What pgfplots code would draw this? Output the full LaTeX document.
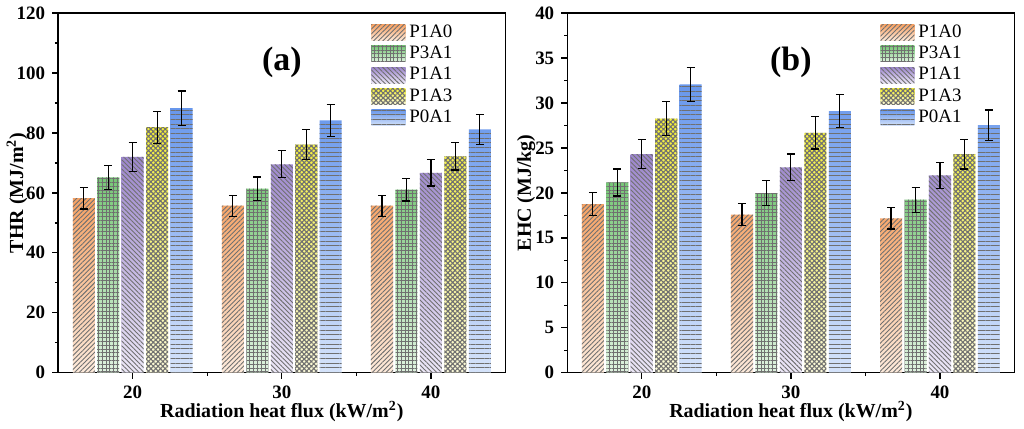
\documentclass[border=0pt]{standalone}
\usepackage{fontspec}
\setmainfont{Liberation Serif}
\usepackage{pgfplots}
\pgfplotsset{compat=1.18}
\usetikzlibrary{patterns.meta}
\definecolor{or1}{HTML}{F7A264}
\definecolor{or2}{HTML}{FDEADB}
\definecolor{gr1}{HTML}{76C676}
\definecolor{gr2}{HTML}{DFF2DF}
\definecolor{pu1}{HTML}{9C86CC}
\definecolor{pu2}{HTML}{ECE7F7}
\definecolor{ye1}{HTML}{F4F034}
\definecolor{ye2}{HTML}{FCFADB}
\definecolor{bl1}{HTML}{6897EC}
\definecolor{bl2}{HTML}{D5E3FA}
\definecolor{patc}{HTML}{707070}
\tikzset{
  pA/.style={pattern={Lines[angle=45,distance=1.65pt,line width=0.45pt]}, pattern color=patc},
  pB/.style={pattern={Hatch[angle=0,distance=1.9pt,line width=0.42pt]}, pattern color=patc},
  pC/.style={pattern={Lines[angle=-45,distance=1.65pt,line width=0.45pt]}, pattern color=patc},
  pD/.style={pattern={Hatch[angle=45,distance=1.7pt,line width=0.55pt]}, pattern color=patc},
  pE/.style={pattern={Lines[angle=0,distance=2.35pt,line width=0.45pt]}, pattern color=patc},
  gA/.style={top color=or1, bottom color=or2},
  gB/.style={top color=gr1, bottom color=gr2},
  gC/.style={top color=pu1, bottom color=pu2},
  gD/.style={top color=ye1, bottom color=ye2},
  gE/.style={top color=bl1, bottom color=bl2},
}
\newcommand{\legimg}[2]{\path[#1] (0pt,-4pt) rectangle (17pt,4pt); \path[#2] (0pt,-4pt) rectangle (17pt,4pt);}
\pgfplotsset{
  shA/.style={draw=none, bar shift=-0.328, gA, forget plot},
  shB/.style={draw=none, bar shift=-0.164, gB, forget plot},
  shC/.style={draw=none, bar shift=0, gC, forget plot},
  shD/.style={draw=none, bar shift=0.164, gD, forget plot},
  shE/.style={draw=none, bar shift=0.328, gE, forget plot},
  eb/.style={error bars/.cd, y dir=both, y explicit,
    error bar style={line width=0.6pt, black, solid},
    error mark options={rotate=90, mark size=2pt, line width=0.6pt, black}},
  ptA/.style={draw=none, bar shift=-0.328, pA, legend image code/.code={\legimg{gA}{pA}}, eb},
  ptB/.style={draw=none, bar shift=-0.164, pB, legend image code/.code={\legimg{gB}{pB}}, eb},
  ptC/.style={draw=none, bar shift=0, pC, legend image code/.code={\legimg{gC}{pC}}, eb},
  ptD/.style={draw=none, bar shift=0.164, pD, legend image code/.code={\legimg{gD}{pD}}, eb},
  ptE/.style={draw=none, bar shift=0.328, pE, legend image code/.code={\legimg{gE}{pE}}, eb},
  common/.style={
    ybar, bar width=0.148,
    scale only axis, width=224.5pt, height=180.5pt,
    xmin=-0.5, xmax=2.5, xtick={0,1,2}, xticklabels={20,30,40}, minor xtick={0.5,1.5},
    ymin=0, minor y tick num=1,
    tick align=outside, xtick pos=bottom, ytick pos=left,
    major tick length=3pt, minor tick length=1.6pt,
    axis line style={line width=0.7pt, black},
    tick style={line width=0.7pt, black},
    ticklabel style={font=\fontsize{9.5}{11}\selectfont\bfseries},
    /pgf/number format/assume math mode=true,
    every axis x label/.style={at={(axis description cs:0.5,-0.108)}, anchor=center,
      font=\fontsize{10}{12}\selectfont\bfseries},
    every axis y label/.style={at={(axis description cs:-0.092,0.5)}, rotate=90, anchor=center,
      font=\fontsize{10}{12}\selectfont\bfseries},
    xlabel={Radiation heat flux (kW/m\textsuperscript{2})},
    legend style={draw=none, fill=none, at={(axis description cs:0.695,0.985)}, anchor=north west,
      font=\fontsize{9.5}{11}\selectfont, row sep=-1.1pt, inner sep=1pt},
    legend cell align=left,
  }
}
\begin{document}
\begin{tikzpicture}
\path (0,0) rectangle (512pt,213pt);
\begin{axis}[common, at={(27.25pt,26.5pt)}, anchor=south west,
  ymax=120, ytick={0,20,40,60,80,100,120},
  ylabel={THR (MJ/m\textsuperscript{2})}]
\addplot[shA] coordinates {(0,58.2) (1,55.7) (2,55.7)};
\addplot[shB] coordinates {(0,65.2) (1,61.4) (2,61.1)};
\addplot[shC] coordinates {(0,72.0) (1,69.5) (2,66.7)};
\addplot[shD] coordinates {(0,81.9) (1,76.1) (2,72.2)};
\addplot[shE] coordinates {(0,88.3) (1,84.2) (2,81.2)};
\addplot[ptA] coordinates {(0,58.2) +- (0,3.6) (1,55.7) +- (0,3.5) (2,55.7) +- (0,3.5)};
\addlegendentry{P1A0}
\addplot[ptB] coordinates {(0,65.2) +- (0,4.0) (1,61.4) +- (0,3.9) (2,61.1) +- (0,3.8)};
\addlegendentry{P3A1}
\addplot[ptC] coordinates {(0,72.0) +- (0,4.8) (1,69.5) +- (0,4.5) (2,66.7) +- (0,4.4)};
\addlegendentry{P1A1}
\addplot[ptD] coordinates {(0,81.9) +- (0,5.3) (1,76.1) +- (0,5.0) (2,72.2) +- (0,4.6)};
\addlegendentry{P1A3}
\addplot[ptE] coordinates {(0,88.3) +- (0,5.7) (1,84.2) +- (0,5.3) (2,81.2) +- (0,5.0)};
\addlegendentry{P0A1}
\node[font=\fontsize{17}{20}\selectfont\bfseries] at (rel axis cs:0.5,0.863) {(a)};
\end{axis}
\begin{axis}[common, at={(282.75pt,26.5pt)}, anchor=south west,
  ymax=40, ytick={0,5,10,15,20,25,30,35,40},
  ylabel={EHC (MJ/kg)}]
\addplot[shA] coordinates {(0,18.76) (1,17.58) (2,17.17)};
\addplot[shB] coordinates {(0,21.16) (1,19.98) (2,19.24)};
\addplot[shC] coordinates {(0,24.30) (1,22.83) (2,21.94)};
\addplot[shD] coordinates {(0,28.25) (1,26.67) (2,24.30)};
\addplot[shE] coordinates {(0,32.06) (1,29.10) (2,27.52)};
\addplot[ptA] coordinates {(0,18.76) +- (0,1.3) (1,17.58) +- (0,1.25) (2,17.17) +- (0,1.2)};
\addlegendentry{P1A0}
\addplot[ptB] coordinates {(0,21.16) +- (0,1.5) (1,19.98) +- (0,1.4) (2,19.24) +- (0,1.4)};
\addlegendentry{P3A1}
\addplot[ptC] coordinates {(0,24.30) +- (0,1.6) (1,22.83) +- (0,1.5) (2,21.94) +- (0,1.45)};
\addlegendentry{P1A1}
\addplot[ptD] coordinates {(0,28.25) +- (0,1.9) (1,26.67) +- (0,1.8) (2,24.30) +- (0,1.65)};
\addlegendentry{P1A3}
\addplot[ptE] coordinates {(0,32.06) +- (0,1.9) (1,29.10) +- (0,1.8) (2,27.52) +- (0,1.7)};
\addlegendentry{P0A1}
\node[font=\fontsize{17}{20}\selectfont\bfseries] at (rel axis cs:0.5,0.863) {(b)};
\end{axis}
\end{tikzpicture}
\end{document}
